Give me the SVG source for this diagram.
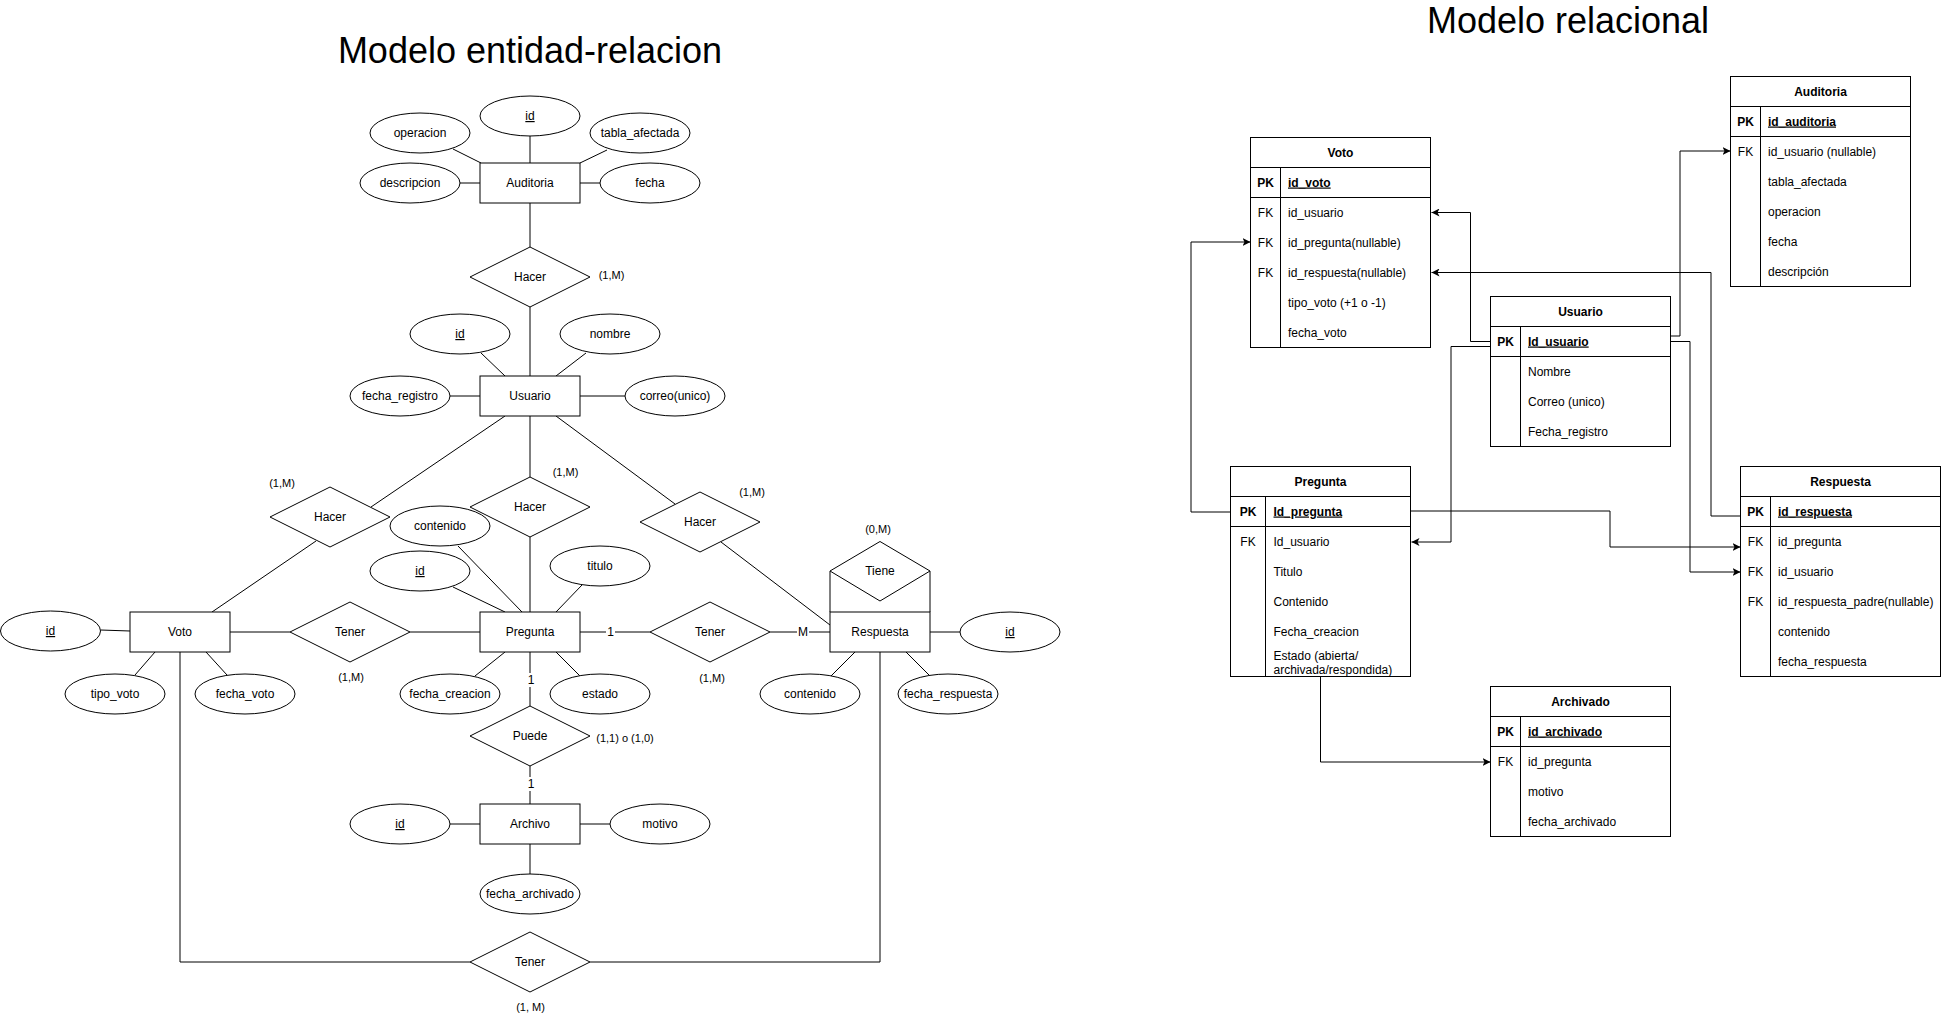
<svg xmlns="http://www.w3.org/2000/svg" width="1941" height="1022" viewBox="0 0 1941 1022">
<style>
text{font-family:"Liberation Sans",Arial,Helvetica,sans-serif;font-size:12px;fill:#000}
.c{text-anchor:middle}
.b{font-weight:bold}
.u{text-decoration:underline}
.sm{font-size:11px}
.title{font-size:36px;text-anchor:middle}
.sh{fill:#fff;stroke:#000;stroke-width:1}
.ln{fill:none;stroke:#000;stroke-width:1}
.ar{fill:none;stroke:#000;stroke-width:1;marker-end:url(#arr)}
</style>
<defs>
<marker id="arr" markerUnits="userSpaceOnUse" markerWidth="9" markerHeight="8" refX="8" refY="4" orient="auto" viewBox="0 0 9 8"><path d="M0,0 L8,4 L0,8 L2,4 Z" fill="#000"/></marker>
<ellipse id="ell" rx="50" ry="20"/>
</defs>
<rect width="1941" height="1022" fill="#fff"/>
<text class="title" x="530" y="63">Modelo entidad-relacion</text>
<text class="title" x="1568" y="33">Modelo relacional</text>

<g id="connectors">
<path class="ln" d="M530,136V163M453,149L481,163M607,150L580,163M460,183H480M580,183H600M530,203V247M530,307V376"/>
<path class="ln" d="M481,353L505,376M586,353L556,376M450,396H480M580,396H625"/>
<path class="ln" d="M505,416L371,507M556,416L675,504M530,416V477M530,537V612M316,541L212,612M721,542L830,625"/>
<path class="ln" d="M458,546L522,612M453,587L505,612M582,585L556,612M475,676L505,652M580,676L556,652"/>
<path class="ln" d="M100.5,630L130,631M135,675L155,652M227,675L206,652M230,632H290M410,632H480M580,632H650M770,632H830M930,632H960"/>
<path class="ln" d="M855,652L831,676M906,652L930,676M830,571V612M930,571V612"/>
<path class="ln" d="M530,652V706M530,766V804M450,824H480M580,824H610M530,844V874"/>
<path class="ln" d="M180,652V962H470M880,652V962H590"/>
<rect x="606" y="625" width="9" height="14" fill="#fff"/><text class="c" x="610.5" y="636">1</text>
<rect x="797" y="625" width="12" height="14" fill="#fff"/><text class="c" x="803" y="636">M</text>
<rect x="526" y="673" width="9" height="14" fill="#fff"/><text class="c" x="531" y="684">1</text>
<rect x="526" y="777" width="9" height="14" fill="#fff"/><text class="c" x="531" y="788">1</text>
<text class="c sm" x="611.5" y="279">(1,M)</text>
<text class="c sm" x="282" y="487">(1,M)</text>
<text class="c sm" x="565.5" y="476">(1,M)</text>
<text class="c sm" x="752" y="496">(1,M)</text>
<text class="c sm" x="351" y="681">(1,M)</text>
<text class="c sm" x="712" y="682">(1,M)</text>
<text class="c sm" x="878" y="533">(0,M)</text>
<text class="c sm" x="625" y="741.5">(1,1) o (1,0)</text>
<text class="c sm" x="530.5" y="1011">(1, M)</text>

<path class="ar" d="M1490,341.5H1470.5V212.5H1431.5"/>
<path class="ar" d="M1490,346.5H1451V542H1411.5"/>
<path class="ar" d="M1670,336H1680V151H1730.5"/>
<path class="ar" d="M1670,341.5H1690V572H1740.5"/>
<path class="ar" d="M1740.5,516H1711V272.5H1431.5"/>
<path class="ar" d="M1230.5,512H1191V242H1250.5"/>
<path class="ar" d="M1410.5,511H1610V547H1740.5"/>
<path class="ar" d="M1320.5,677V762H1490.5"/>
</g>

<g id="er-auditoria"><rect class="sh" x="480" y="163" width="100" height="40"/><text class="c" x="530" y="187">Auditoria</text></g>
<g id="er-auditoria-id"><use href="#ell" class="sh" x="530" y="116"/><text class="c u" x="530" y="120">id</text></g>
<g id="er-auditoria-operacion"><use href="#ell" class="sh" x="420" y="133"/><text class="c" x="420" y="137">operacion</text></g>
<g id="er-auditoria-tabla"><use href="#ell" class="sh" x="640" y="133"/><text class="c" x="640" y="137">tabla_afectada</text></g>
<g id="er-auditoria-descripcion"><use href="#ell" class="sh" x="410" y="183"/><text class="c" x="410" y="187">descripcion</text></g>
<g id="er-auditoria-fecha"><use href="#ell" class="sh" x="650" y="183"/><text class="c" x="650" y="187">fecha</text></g>
<g id="er-hacer-aud"><polygon class="sh" points="470,277 530,247 590,277 530,307"/><text class="c" x="530" y="281">Hacer</text></g>

<g id="er-usuario"><rect class="sh" x="480" y="376" width="100" height="40"/><text class="c" x="530" y="400">Usuario</text></g>
<g id="er-usuario-id"><use href="#ell" class="sh" x="460" y="334"/><text class="c u" x="460" y="338">id</text></g>
<g id="er-usuario-nombre"><use href="#ell" class="sh" x="610" y="334"/><text class="c" x="610" y="338">nombre</text></g>
<g id="er-usuario-fecha"><use href="#ell" class="sh" x="400" y="396"/><text class="c" x="400" y="400">fecha_registro</text></g>
<g id="er-usuario-correo"><use href="#ell" class="sh" x="675" y="396"/><text class="c" x="675" y="400">correo(unico)</text></g>

<g id="er-hacer-voto"><polygon class="sh" points="270,517 330,487 390,517 330,547"/><text class="c" x="330" y="521">Hacer</text></g>
<g id="er-hacer-preg"><polygon class="sh" points="470,507 530,477 590,507 530,537"/><text class="c" x="530" y="511">Hacer</text></g>
<g id="er-hacer-resp"><polygon class="sh" points="640,522 700,492 760,522 700,552"/><text class="c" x="700" y="526">Hacer</text></g>

<g id="er-pregunta"><rect class="sh" x="480" y="612" width="100" height="40"/><text class="c" x="530" y="636">Pregunta</text></g>
<g id="er-pregunta-contenido"><use href="#ell" class="sh" x="440" y="526"/><text class="c" x="440" y="530">contenido</text></g>
<g id="er-pregunta-id"><use href="#ell" class="sh" x="420" y="571"/><text class="c u" x="420" y="575">id</text></g>
<g id="er-pregunta-titulo"><use href="#ell" class="sh" x="600" y="566"/><text class="c" x="600" y="570">titulo</text></g>
<g id="er-pregunta-fecha"><use href="#ell" class="sh" x="450" y="694"/><text class="c" x="450" y="698">fecha_creacion</text></g>
<g id="er-pregunta-estado"><use href="#ell" class="sh" x="600" y="694"/><text class="c" x="600" y="698">estado</text></g>

<g id="er-voto"><rect class="sh" x="130" y="612" width="100" height="40"/><text class="c" x="180" y="636">Voto</text></g>
<g id="er-voto-id"><use href="#ell" class="sh" x="50.5" y="631"/><text class="c u" x="50.5" y="635">id</text></g>
<g id="er-voto-tipo"><use href="#ell" class="sh" x="115" y="694"/><text class="c" x="115" y="698">tipo_voto</text></g>
<g id="er-voto-fecha"><use href="#ell" class="sh" x="245" y="694"/><text class="c" x="245" y="698">fecha_voto</text></g>
<g id="er-tener-voto"><polygon class="sh" points="290,632 350,602 410,632 350,662"/><text class="c" x="350" y="636">Tener</text></g>
<g id="er-tener-resp"><polygon class="sh" points="650,632 710,602 770,632 710,662"/><text class="c" x="710" y="636">Tener</text></g>

<g id="er-respuesta"><rect class="sh" x="830" y="612" width="100" height="40"/><text class="c" x="880" y="636">Respuesta</text></g>
<g id="er-tiene"><polygon class="sh" points="830,571 880,541.5 930,571 880,601"/><text class="c" x="880" y="575">Tiene</text></g>
<g id="er-respuesta-id"><use href="#ell" class="sh" x="1010" y="632"/><text class="c u" x="1010" y="636">id</text></g>
<g id="er-respuesta-contenido"><use href="#ell" class="sh" x="810" y="694"/><text class="c" x="810" y="698">contenido</text></g>
<g id="er-respuesta-fecha"><use href="#ell" class="sh" x="948" y="694"/><text class="c" x="948" y="698">fecha_respuesta</text></g>

<g id="er-puede"><polygon class="sh" points="470,736 530,706 590,736 530,766"/><text class="c" x="530" y="740">Puede</text></g>
<g id="er-archivo"><rect class="sh" x="480" y="804" width="100" height="40"/><text class="c" x="530" y="828">Archivo</text></g>
<g id="er-archivo-id"><use href="#ell" class="sh" x="400" y="824"/><text class="c u" x="400" y="828">id</text></g>
<g id="er-archivo-motivo"><use href="#ell" class="sh" x="660" y="824"/><text class="c" x="660" y="828">motivo</text></g>
<g id="er-archivo-fecha"><use href="#ell" class="sh" x="530" y="894"/><text class="c" x="530" y="898">fecha_archivado</text></g>
<g id="er-tener-bottom"><polygon class="sh" points="470,962 530,932 590,962 530,992"/><text class="c" x="530" y="966">Tener</text></g>

<g id="tbl-voto">
<rect class="sh" x="1250.5" y="137.5" width="180" height="210"/>
<path class="ln" d="M1250.5,167.5H1430.5M1250.5,197.5H1430.5M1280.5,167.5V347.5"/>
<text class="c b" x="1340.5" y="156.5">Voto</text>
<text class="c b" x="1265.5" y="186.5">PK</text><text class="b u" x="1288" y="186.5">id_voto</text>
<text class="c" x="1265.5" y="216.5">FK</text><text x="1288" y="216.5">id_usuario</text>
<text class="c" x="1265.5" y="246.5">FK</text><text x="1288" y="246.5">id_pregunta(nullable)</text>
<text class="c" x="1265.5" y="276.5">FK</text><text x="1288" y="276.5">id_respuesta(nullable)</text>
<text x="1288" y="306.5">tipo_voto (+1 o -1)</text>
<text x="1288" y="336.5">fecha_voto</text>
</g>

<g id="tbl-auditoria">
<rect class="sh" x="1730.5" y="76.5" width="180" height="210"/>
<path class="ln" d="M1730.5,106.5H1910.5M1730.5,136.5H1910.5M1760.5,106.5V286.5"/>
<text class="c b" x="1820.5" y="95.5">Auditoria</text>
<text class="c b" x="1745.5" y="125.5">PK</text><text class="b u" x="1768" y="125.5">id_auditoria</text>
<text class="c" x="1745.5" y="155.5">FK</text><text x="1768" y="155.5">id_usuario (nullable)</text>
<text x="1768" y="185.5">tabla_afectada</text>
<text x="1768" y="215.5">operacion</text>
<text x="1768" y="245.5">fecha</text>
<text x="1768" y="275.5">descripción</text>
</g>

<g id="tbl-usuario">
<rect class="sh" x="1490.5" y="296.5" width="180" height="150"/>
<path class="ln" d="M1490.5,326.5H1670.5M1490.5,356.5H1670.5M1520.5,326.5V446.5"/>
<text class="c b" x="1580.5" y="315.5">Usuario</text>
<text class="c b" x="1505.5" y="345.5">PK</text><text class="b u" x="1528" y="345.5">Id_usuario</text>
<text x="1528" y="375.5">Nombre</text>
<text x="1528" y="405.5">Correo (unico)</text>
<text x="1528" y="435.5">Fecha_registro</text>
</g>

<g id="tbl-pregunta">
<rect class="sh" x="1230.5" y="466.5" width="180" height="210"/>
<path class="ln" d="M1230.5,496.5H1410.5M1230.5,526.5H1410.5M1265.5,496.5V676.5"/>
<text class="c b" x="1320.5" y="485.5">Pregunta</text>
<text class="c b" x="1248" y="515.5">PK</text><text class="b u" x="1273.5" y="515.5">Id_pregunta</text>
<text class="c" x="1248" y="545.5">FK</text><text x="1273.5" y="545.5">Id_usuario</text>
<text x="1273.5" y="575.5">Titulo</text>
<text x="1273.5" y="605.5">Contenido</text>
<text x="1273.5" y="635.5">Fecha_creacion</text>
<text x="1273.5" y="660">Estado (abierta/</text>
<text x="1273.5" y="674">archivada/respondida)</text>
</g>

<g id="tbl-archivado">
<rect class="sh" x="1490.5" y="686.5" width="180" height="150"/>
<path class="ln" d="M1490.5,716.5H1670.5M1490.5,746.5H1670.5M1520.5,716.5V836.5"/>
<text class="c b" x="1580.5" y="705.5">Archivado</text>
<text class="c b" x="1505.5" y="735.5">PK</text><text class="b u" x="1528" y="735.5">id_archivado</text>
<text class="c" x="1505.5" y="765.5">FK</text><text x="1528" y="765.5">id_pregunta</text>
<text x="1528" y="795.5">motivo</text>
<text x="1528" y="825.5">fecha_archivado</text>
</g>

<g id="tbl-respuesta">
<rect class="sh" x="1740.5" y="466.5" width="200" height="210"/>
<path class="ln" d="M1740.5,496.5H1940.5M1740.5,526.5H1940.5M1770.5,496.5V676.5"/>
<text class="c b" x="1840.5" y="485.5">Respuesta</text>
<text class="c b" x="1755.5" y="515.5">PK</text><text class="b u" x="1778" y="515.5">id_respuesta</text>
<text class="c" x="1755.5" y="545.5">FK</text><text x="1778" y="545.5">id_pregunta</text>
<text class="c" x="1755.5" y="575.5">FK</text><text x="1778" y="575.5">id_usuario</text>
<text class="c" x="1755.5" y="605.5">FK</text><text x="1778" y="605.5">id_respuesta_padre(nullable)</text>
<text x="1778" y="635.5">contenido</text>
<text x="1778" y="665.5">fecha_respuesta</text>
</g>
</svg>
